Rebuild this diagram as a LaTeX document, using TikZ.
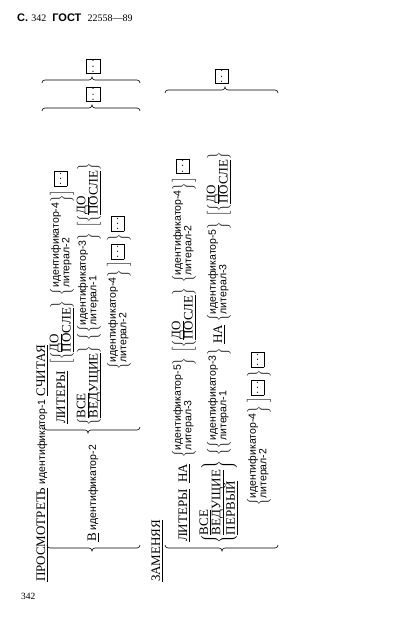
\documentclass[tikz,border=0pt]{standalone}
\usepackage{fontspec}
\setmainfont{Liberation Serif}
\newfontfamily\sansf{Liberation Sans}
\newcommand\sm{\sansf\fontsize{10.5}{10.5}\selectfont}
\newcommand\mainsize{\fontsize{13}{12}\selectfont}
\newcommand\U[1]{\setbox0=\hbox{#1}\rlap{\rule[-2.8pt]{\wd0}{0.55pt}}\box0}
\newcommand\stkA[1]{\vcenter{\hbox{\begin{tabular}{@{}l@{}}#1\end{tabular}}}}
\newcommand\stkS[1]{\vcenter{\hbox{\sm\begin{tabular}{@{}l@{}}#1\end{tabular}}}}
\newcommand\brA[1]{\left\{\stkA{#1}\right\}}
\newcommand\brS[1]{\left\{\stkS{#1}\right\}}
\newcommand\elp{\raisebox{-2pt}{\fboxsep=0pt\fboxrule=0.5pt\fbox{\makebox[14pt]{\rule{0pt}{13pt}\raisebox{3.3pt}{$\cdots$}}}}}
\newcommand\obrace[4]{\draw[brc] ({#1+3},{-#2}) to[out=180,in=90] (#1,{-#2-3}) -- (#1,{-#3+3}) to[out=-90,in=0] ({#1-3},-#3) to[out=0,in=90] (#1,{-#3-3}) -- (#1,{-#4+3}) to[out=-90,in=180] ({#1+3},{-#4});}
\newcommand\cbrace[4]{\draw[brc] ({#1-3},{-#2}) to[out=0,in=90] (#1,{-#2-3}) -- (#1,{-#3+3}) to[out=-90,in=180] ({#1+3},-#3) to[out=180,in=90] (#1,{-#3-3}) -- (#1,{-#4+3}) to[out=-90,in=0] ({#1-3},{-#4});}
\tikzset{
  T/.style={inner sep=0pt, outer sep=0pt, font=\mainsize, anchor=base west},
  bx/.style={inner sep=0pt, outer sep=0pt, font=\mainsize, anchor=center},
  brc/.style={line width=0.6pt, black}
}
\begin{document}
\begin{tikzpicture}[x=1pt,y=1pt]
\fill[white] (0,0) rectangle (416,626);
\useasboundingbox (0,0) rectangle (416,626);
% header and footer
\node[anchor=base west, inner sep=0pt] (hdr) at (17,604) {\sansf\bfseries\fontsize{11}{11}\selectfont С.\ {\mdseries\rmfamily\fontsize{10}{10}\selectfont 342}\ \ ГОСТ\ \ {\mdseries\rmfamily\fontsize{10}{10}\selectfont 22558—89}};
\node[anchor=base west, inner sep=0pt] (ftr) at (21,26) {\fontsize{9.5}{9.5}\selectfont 342};
\begin{scope}[rotate=90, transform shape]
% TALLYING part
\node[T] (rowA) at (44,-45) {\U{ПРОСМОТРЕТЬ}\ {\sm идентификатор-1}\ \U{СЧИТАЯ}};
\obrace{78}{47}{92}{140}
\node[T] (rowB) at (84,-96) {\U{В}\ {\sm идентификатор-2}};
\obrace{196}{44}{88}{140}
\node[T] (row2) at (202,-65) {\U{ЛИТЕРЫ}\ \ $\left[\brA{\U{ДО}\\\U{ПОСЛЕ}}\;\brS{идентификатор-4\\литерал-2}\right]$\;\elp};
\node[T] (row3) at (200,-92) {$\brA{\U{ВСЕ}\\\U{ВЕДУЩИЕ}}\;\left\{\left\{\stkS{идентификатор-3\\литерал-1}\right\}\;\left[\brA{\U{ДО}\\\U{ПОСЛЕ}}\right.\right.$};
\node[T] (row4) at (256,-122) {$\brS{идентификатор-4\\литерал-2}\left.\vphantom{\stkS{a\\b}}\right]$\,\elp\,$\left.\vphantom{\stkS{a\\b}}\right\}$\,\elp};
\cbrace{518}{42}{92}{140}
\node[bx] (e1) at (531.5,-93) {\elp};
\cbrace{546}{42}{92}{140}
\node[bx] (e2) at (559.5,-93) {\elp};
% REPLACING part
\node[T] (zam) at (44,-160) {\U{ЗАМЕНЯЯ}};
\obrace{78}{165}{222}{278}
\node[T] (r1) at (84,-187) {\U{ЛИТЕРЫ}\ \ \U{НА}\ \ $\brS{идентификатор-5\\литерал-3}\;\left[\brA{\U{ДО}\\\U{ПОСЛЕ}}\;\brS{идентификатор-4\\литерал-2}\right]$\;\elp};
\node[T] (r2) at (82,-222) {$\brA{\U{ВСЕ}\\\U{ВЕДУЩИЕ}\\\U{ПЕРВЫЙ}}\;\left\{\left\{\stkS{идентификатор-3\\литерал-1}\right\}\right.$\ \U{НА}\ $\brS{идентификатор-5\\литерал-3}\;\left[\brA{\U{ДО}\\\U{ПОСЛЕ}}\right.$};
\node[T] (r3) at (120,-262) {$\brS{идентификатор-4\\литерал-2}\left.\vphantom{\stkS{a\\b}}\right]$\,\elp\,$\left.\vphantom{\stkS{a\\b}}\right\}$\,\elp};
\cbrace{536}{165}{225}{278}
\node[bx] (e3) at (549.5,-221.5) {\elp};
\end{scope}
\end{tikzpicture}
\end{document}
